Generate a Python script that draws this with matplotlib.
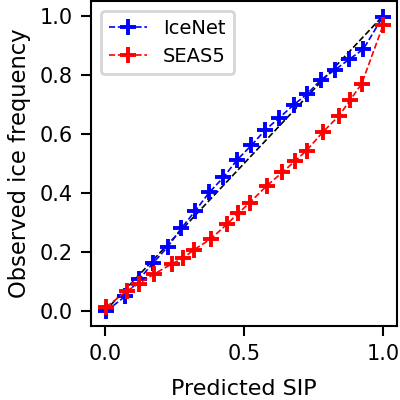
import matplotlib
matplotlib.use("Agg")
import matplotlib.pyplot as plt

icenet_x = [0.005, 0.072, 0.123, 0.174, 0.225, 0.275, 0.325, 0.375, 0.426, 0.475,
            0.526, 0.577, 0.626, 0.678, 0.728, 0.776, 0.827, 0.879, 0.929, 0.998]
icenet_y = [0.0, 0.05, 0.108, 0.164, 0.217, 0.281, 0.34, 0.402, 0.453, 0.512,
            0.561, 0.614, 0.654, 0.698, 0.736, 0.783, 0.817, 0.853, 0.887, 0.995]
seas5_x = [0.004, 0.078, 0.121, 0.177, 0.24, 0.282, 0.32, 0.381, 0.44, 0.48,
           0.521, 0.581, 0.638, 0.684, 0.725, 0.783, 0.842, 0.881, 0.923, 1.0]
seas5_y = [0.014, 0.068, 0.093, 0.126, 0.16, 0.18, 0.208, 0.245, 0.296, 0.332,
           0.368, 0.424, 0.47, 0.509, 0.544, 0.606, 0.662, 0.714, 0.77, 0.968]

fig = plt.figure(figsize=(4, 4), dpi=100)
ax = fig.add_axes([0.2275, 0.185, 0.765, 0.8125])
for s in ax.spines.values():
    s.set_linewidth(1.5)
ax.plot([0, 1], [0, 1], 'k--', lw=1.2)
ax.plot(icenet_x, icenet_y, '--', color='blue', marker='+', ms=11, mew=2.8, lw=1.2, label='IceNet')
ax.plot(seas5_x, seas5_y, '--', color='red', marker='+', ms=11, mew=2.8, lw=1.2, label='SEAS5')
ax.set_xticks([0, 0.5, 1.0])
ax.set_yticks([0, 0.2, 0.4, 0.6, 0.8, 1.0])
ax.tick_params(labelsize=15, width=1.5, length=7, pad=6)
ax.set_xlabel('Predicted SIP', fontsize=16, labelpad=11)
ax.set_ylabel('Observed ice frequency', fontsize=16.3, labelpad=6)
leg = ax.legend(loc='upper left', fontsize=14)
leg.get_frame().set_linewidth(2)
fig.savefig('out.png', dpi=100)
